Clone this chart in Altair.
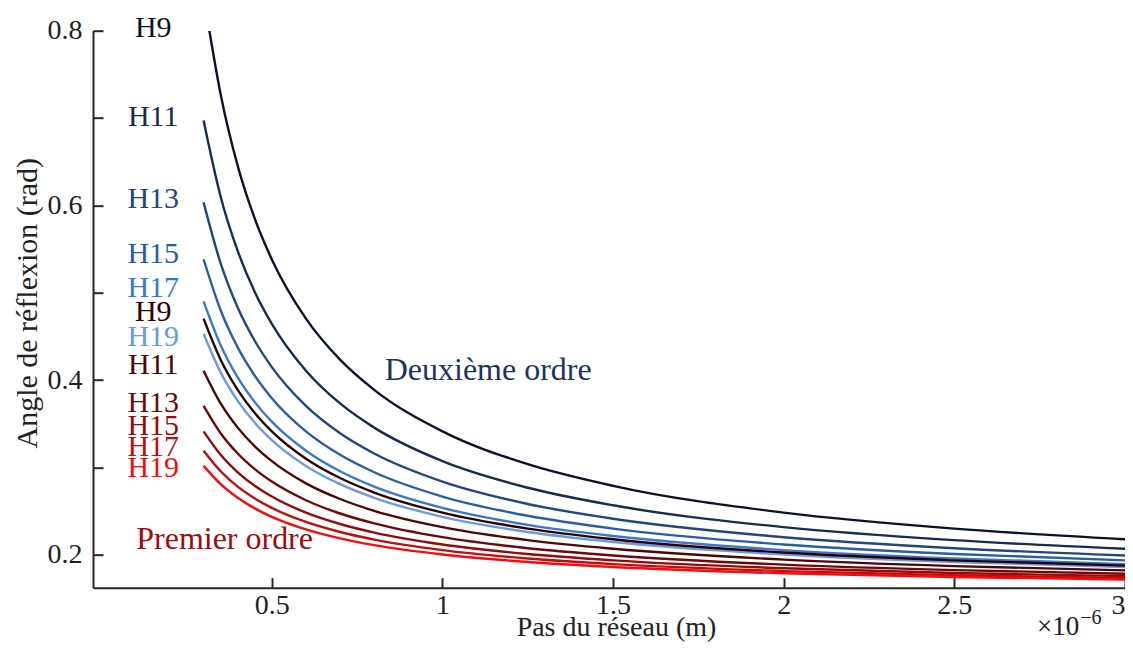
import altair as alt
import pandas as pd

# ---- data (pitch in micrometres, angle in rad) ----
pitch = [0.3, 0.35, 0.4, 0.45, 0.5, 0.6, 0.7, 0.8, 1.0, 1.25, 1.5, 2.0, 2.5, 3.0]
pitch_h9_second = [0.317, 0.35, 0.4, 0.45, 0.5, 0.6, 0.7, 0.8, 1.0, 1.25, 1.5, 2.0, 2.5, 3.0]

h9_second = [0.800, 0.7272, 0.6453, 0.5849, 0.5382, 0.4705, 0.4235, 0.3889, 0.3414, 0.3039, 0.2791, 0.2484, 0.2301, 0.2180]
h11_second = [0.6971, 0.6100, 0.5479, 0.5009, 0.4645, 0.4109, 0.3734, 0.3457, 0.3073, 0.2769, 0.2568, 0.2318, 0.2169, 0.2070]
h13_second = [0.6035, 0.5338, 0.4833, 0.4451, 0.4150, 0.3706, 0.3393, 0.3161, 0.2839, 0.2583, 0.2414, 0.2203, 0.2077, 0.1994]
h15_second = [0.5384, 0.4800, 0.4375, 0.4051, 0.3794, 0.3414, 0.3146, 0.2946, 0.2668, 0.2448, 0.2301, 0.2119, 0.2010, 0.1938]
h17_second = [0.4902, 0.4400, 0.4032, 0.3749, 0.3525, 0.3193, 0.2958, 0.2782, 0.2538, 0.2344, 0.2216, 0.2055, 0.1959, 0.1895]
h19_second = [0.4531, 0.4089, 0.3764, 0.3513, 0.3315, 0.3019, 0.2810, 0.2654, 0.2436, 0.2263, 0.2148, 0.2005, 0.1919, 0.1862]

h9_first = [0.4705, 0.4235, 0.3890, 0.3624, 0.3414, 0.3101, 0.2880, 0.2714, 0.2484, 0.2301, 0.2180, 0.2028, 0.1938, 0.1877]
h11_first = [0.4109, 0.3734, 0.3457, 0.3243, 0.3073, 0.2819, 0.2640, 0.2505, 0.2318, 0.2169, 0.2070, 0.1946, 0.1872, 0.1823]
h13_first = [0.3706, 0.3393, 0.3161, 0.2982, 0.2839, 0.2626, 0.2474, 0.2361, 0.2203, 0.2077, 0.1994, 0.1889, 0.1826, 0.1785]
h15_first = [0.3414, 0.3146, 0.2946, 0.2791, 0.2668, 0.2484, 0.2354, 0.2256, 0.2119, 0.2010, 0.1938, 0.1847, 0.1793, 0.1757]
h17_first = [0.3193, 0.2958, 0.2782, 0.2647, 0.2538, 0.2377, 0.2262, 0.2175, 0.2055, 0.1959, 0.1895, 0.1815, 0.1767, 0.1736]
h19_first = [0.3019, 0.2810, 0.2654, 0.2533, 0.2436, 0.2292, 0.2189, 0.2112, 0.2005, 0.1919, 0.1862, 0.1790, 0.1747, 0.1719]

series_names = ["H9 (2)", "H11 (2)", "H13 (2)", "H15 (2)", "H17 (2)", "H19 (2)",
                "H9 (1)", "H11 (1)", "H13 (1)", "H15 (1)", "H17 (1)", "H19 (1)"]
series_values = [h9_second, h11_second, h13_second, h15_second, h17_second, h19_second,
                 h9_first, h11_first, h13_first, h15_first, h17_first, h19_first]
series_colors = ["#0b1426", "#172c50", "#22477f", "#2b5ca6", "#3a78d0", "#6b9be0",
                 "#2d0202", "#4f0606", "#6f0909", "#950b0b", "#c10d0d", "#fa0a0a"]

# curve labels (text, anchor in data units)
label_text = ["H9", "H11", "H13", "H15", "H17", "H9", "H19", "H11", "H13", "H15", "H17", "H19"]
label_series = ["H9 (2)", "H11 (2)", "H13 (2)", "H15 (2)", "H17 (2)", "H9 (1)", "H19 (2)",
                "H11 (1)", "H13 (1)", "H15 (1)", "H17 (1)", "H19 (1)"]
label_x = [0.1524] * 12
label_y = [0.8031, 0.7013, 0.6074, 0.5445, 0.5056, 0.4781, 0.4495, 0.4174, 0.3740, 0.3476, 0.3236, 0.2996]

order_text = ["Deuxième ordre", "Premier ordre"]
order_x = [1.134, 0.3616]
order_y = [0.4117, 0.2183]
order_color = ["#1c3460", "#a00c0c"]

exp_text = ["×10", "−6"]
exp_x = [2.804, 2.900]
exp_y = [0.1085, 0.1210]
exp_size = [27, 20]

x_tick_values = [0.5, 1, 1.5, 2, 2.5, 3]
y_label_values = [0.2, 0.4, 0.6, 0.8]
y_tick_values = [0.2, 0.3, 0.4, 0.5, 0.6, 0.7, 0.8]

# ---- tables ----
rows = []
for name, vals in zip(series_names, series_values):
    xs = pitch_h9_second if name == "H9 (2)" else pitch
    for d, a in zip(xs, vals):
        rows.append({"series": name, "pitch": d, "angle": a})
df = pd.DataFrame(rows)

labels_df = pd.DataFrame({"text": label_text, "series": label_series, "x": label_x, "y": label_y})
order_df = pd.DataFrame({"text": order_text, "x": order_x, "y": order_y, "c": order_color})
exp_df = pd.DataFrame({"text": exp_text, "x": exp_x, "y": exp_y, "size": exp_size})

FONT = "Liberation Serif"
AX = "#262626"
TXT = "#222222"
xscale = alt.Scale(domain=[-0.024, 3.0], nice=False, zero=False)
yscale = alt.Scale(domain=[0.1625, 0.8], nice=False, zero=False)
cscale = alt.Scale(domain=series_names, range=series_colors)

lines = alt.Chart(df).mark_line(strokeWidth=2.4, interpolate="monotone", clip=True).encode(
    x=alt.X("pitch:Q", scale=xscale,
            axis=alt.Axis(values=x_tick_values, ticks=False, tickSize=0, grid=False,
                          domainColor=AX, domainWidth=2, labelPadding=4, format="~g",
                          labelFlush=True,
                          labelFont=FONT, labelFontSize=28, labelColor=TXT,
                          title="Pas du réseau (m)", titleFont=FONT, titleFontSize=28,
                          titleFontWeight="normal", titleColor=TXT,
                          titleX=523, titleY=48, titleBaseline="alphabetic")),
    y=alt.Y("angle:Q", scale=yscale,
            axis=alt.Axis(values=y_label_values, ticks=False, tickSize=0, grid=False,
                          domainColor=AX, domainWidth=2, labelPadding=11,
                          labelFont=FONT, labelFontSize=28, labelColor=TXT,
                          format=".1f",
                          title="Angle de réflexion (rad)", titleFont=FONT, titleFontSize=30,
                          titleFontWeight="normal", titleColor=TXT,
                          titleX=-66, titleY=272, titleBaseline="middle", titleAngle=270)),
    color=alt.Color("series:N", scale=cscale, legend=None),
    detail="series:N",
)

tick_layer = alt.Chart(df).mark_line(opacity=0).encode(
    x=alt.X("pitch:Q", scale=xscale,
            axis=alt.Axis(orient="bottom", offset=-10, values=x_tick_values, domain=False,
                          labels=False, ticks=True, tickSize=10, tickWidth=2, tickColor=AX,
                          grid=False, title=None)),
    y=alt.Y("angle:Q", scale=yscale,
            axis=alt.Axis(orient="left", offset=-10, values=y_tick_values, domain=False,
                          labels=False, ticks=True, tickSize=10, tickWidth=2, tickColor=AX,
                          grid=False, title=None)),
    detail="series:N",
)

curve_labels = alt.Chart(labels_df).mark_text(font=FONT, fontSize=30, align="center", baseline="middle").encode(
    x=alt.X("x:Q", scale=xscale, axis=None),
    y=alt.Y("y:Q", scale=yscale, axis=None),
    text="text:N",
    color=alt.Color("series:N", scale=cscale, legend=None),
)

order_labels = alt.Chart(order_df).mark_text(font=FONT, fontSize=32, align="center", baseline="middle").encode(
    x=alt.X("x:Q", scale=xscale, axis=None),
    y=alt.Y("y:Q", scale=yscale, axis=None),
    text="text:N",
    color=alt.Color("c:N", scale=None, legend=None),
)

exp_labels = alt.Chart(exp_df).mark_text(font=FONT, align="center", baseline="alphabetic", color=TXT).encode(
    x=alt.X("x:Q", scale=xscale, axis=None),
    y=alt.Y("y:Q", scale=yscale, axis=None),
    text="text:N",
    size=alt.Size("size:Q", scale=None, legend=None),
)

chart = alt.layer(lines, tick_layer, curve_labels, order_labels, exp_labels).resolve_axis(
    x="independent", y="independent"
).properties(
    width=1032, height=557,
    background="white",
    autosize=alt.AutoSizeParams(type="none"),
    padding={"left": 85, "top": 22.7, "right": 0, "bottom": 54},
).configure_view(strokeWidth=0, stroke="transparent")

chart.save("out.html", embed_options={"renderer": "svg", "actions": False})
